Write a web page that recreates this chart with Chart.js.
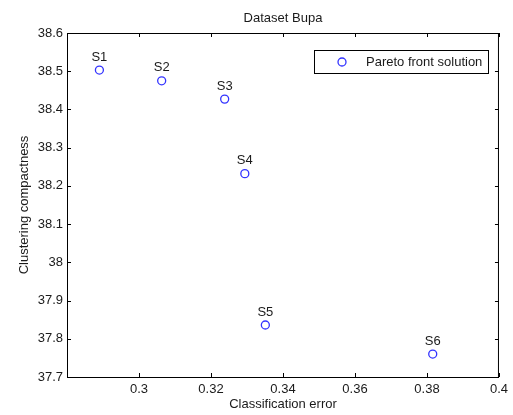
<!DOCTYPE html>
<html>
<head>
<meta charset="utf-8">
<script src="https://cdn.jsdelivr.net/npm/chart.js@4"></script>
<style>
  html, body { margin: 0; padding: 0; background: #fff; }
  #wrap { width: 513px; height: 415px; }
</style>
</head>
<body>
<div id="wrap"><canvas id="pareto"></canvas></div>
<script>
// values
const pointNames = ['S1', 'S2', 'S3', 'S4', 'S5', 'S6'];
const classErr = [0.289, 0.3063, 0.3238, 0.3294, 0.3351, 0.3816];
const compactness = [38.503, 38.475, 38.427, 38.232, 37.836, 37.760];
const xTicks = [0.3, 0.32, 0.34, 0.36, 0.38, 0.4];
const yTicks = [37.7, 37.8, 37.9, 38, 38.1, 38.2, 38.3, 38.4, 38.5, 38.6];

const FAMILY = 'Arial, "Liberation Sans", sans-serif';
const FONT = '13px ' + FAMILY;
const TEXT = '#1a1a1a';
const MARK = '#3333ff';

function fmt(v) {
  return String(Number(v.toFixed(3)));
}

// MATLAB-ish axes: box, inward ticks, titles, point labels and legend
const matlabAxes = {
  id: 'matlabAxes',
  afterDatasetsDraw(chart) {
    const ctx = chart.ctx;
    const a = chart.chartArea;
    const xs = chart.scales.x;
    const ys = chart.scales.y;
    ctx.save();

    // box
    ctx.strokeStyle = '#000';
    ctx.lineWidth = 1;
    ctx.strokeRect(a.left + 0.5, a.top + 0.5, a.right - a.left - 1, a.bottom - a.top);

    // ticks inward, on both sides
    ctx.beginPath();
    xTicks.forEach((t) => {
      const px = Math.round(xs.getPixelForValue(t)) + 0.5;
      ctx.moveTo(px, a.bottom);
      ctx.lineTo(px, a.bottom - 4);
      ctx.moveTo(px, a.top);
      ctx.lineTo(px, a.top + 4);
    });
    yTicks.forEach((t) => {
      const py = Math.round(ys.getPixelForValue(t)) + 0.5;
      ctx.moveTo(a.left, py);
      ctx.lineTo(a.left + 4, py);
      ctx.moveTo(a.right, py);
      ctx.lineTo(a.right - 4, py);
    });
    ctx.stroke();

    ctx.fillStyle = TEXT;
    ctx.font = FONT;

    // title and axis titles
    ctx.textAlign = 'center';
    ctx.textBaseline = 'middle';
    ctx.fillText('Dataset Bupa', (a.left + a.right) / 2, 18.5);
    ctx.fillText('Classification error', (a.left + a.right) / 2, 404);
    ctx.save();
    ctx.translate(24, (a.top + a.bottom) / 2);
    ctx.rotate(-Math.PI / 2);
    ctx.fillText('Clustering compactness', 0, 0);
    ctx.restore();

    // labels above the points
    const meta = chart.getDatasetMeta(0);
    meta.data.forEach((pt, i) => {
      ctx.fillText(pointNames[i], pt.x, pt.y - 13);
    });

    // legend
    const lx = 314, ly = 50, lw = 174, lh = 23;
    ctx.fillStyle = '#fff';
    ctx.fillRect(lx, ly, lw, lh);
    ctx.strokeStyle = '#000';
    ctx.strokeRect(lx + 0.5, ly + 0.5, lw, lh);
    ctx.strokeStyle = MARK;
    ctx.lineWidth = 1.3;
    ctx.beginPath();
    ctx.arc(342, ly + lh / 2 + 0.5, 4, 0, Math.PI * 2);
    ctx.stroke();
    ctx.fillStyle = TEXT;
    ctx.textAlign = 'left';
    ctx.fillText('Pareto front solution', 366, ly + lh / 2 + 1);

    ctx.restore();
  }
};

new Chart(document.getElementById('pareto'), {
  type: 'scatter',
  data: {
    datasets: [{
      label: 'Pareto front solution',
      data: classErr.map((x, i) => ({ x: x, y: compactness[i] })),
      pointStyle: 'circle',
      pointRadius: 4,
      pointBorderWidth: 1.3,
      pointBorderColor: MARK,
      pointBackgroundColor: 'rgba(0,0,0,0)',
      showLine: false,
    }],
  },
  options: {
    responsive: true,
    maintainAspectRatio: false,
    animation: false,
    layout: { padding: { top: 33, right: 11, left: 0, bottom: 0 } },
    plugins: {
      legend: { display: false },
      tooltip: { enabled: false },
    },
    scales: {
      x: {
        type: 'linear',
        min: 0.28,
        max: 0.4,
        afterBuildTicks: (s) => { s.ticks = xTicks.map((v) => ({ value: v })); },
        afterFit: (s) => { s.height = 38; },
        grid: { display: false, drawTicks: false },
        border: { display: false },
        ticks: {
          color: TEXT,
          font: { family: FAMILY, size: 13 },
          padding: 5,
          maxRotation: 0,
          callback: (v) => fmt(v),
        },
      },
      y: {
        type: 'linear',
        min: 37.7,
        max: 38.6,
        afterBuildTicks: (s) => { s.ticks = yTicks.map((v) => ({ value: v })); },
        afterFit: (s) => { s.width = 67; },
        grid: { display: false, drawTicks: false },
        border: { display: false },
        ticks: {
          color: TEXT,
          font: { family: FAMILY, size: 13 },
          padding: 4,
          callback: (v) => fmt(v),
        },
      },
    },
  },
  plugins: [matlabAxes],
});
</script>
</body>
</html>
